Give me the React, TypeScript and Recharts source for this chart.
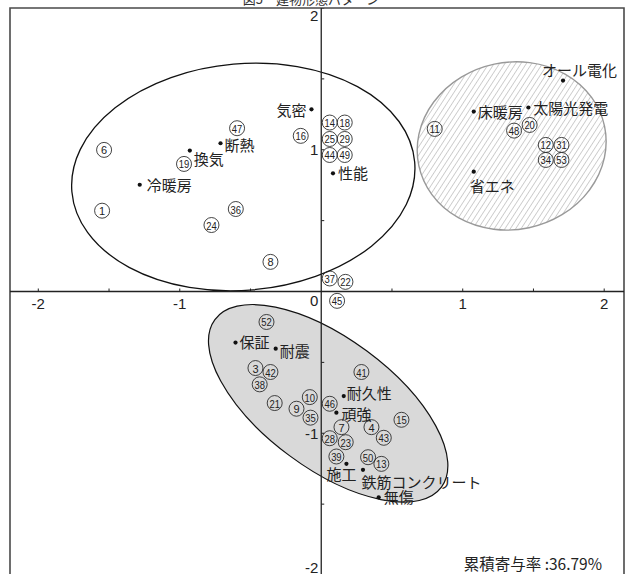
import { ReferenceArea, ReferenceLine, Scatter, ScatterChart, XAxis, YAxis } from "recharts";

// circled sample numbers (x, y in axis units)
const itemIds = [1, 3, 4, 6, 7, 8, 9, 10, 11, 12, 13, 14, 15, 16, 18, 19, 20, 21, 22, 23, 24, 25, 28, 29, 31, 34, 35, 36, 37, 38, 39, 41, 42, 43, 44, 45, 46, 47, 48, 49, 50, 52, 53];
const itemX = [-1.549, -0.465, 0.355, -1.535, 0.143, -0.359, -0.175, -0.081, 0.802, 1.587, 0.425, 0.06, 0.567, -0.145, 0.166, -0.97, 1.473, -0.329, 0.171, 0.173, -0.776, 0.06, 0.06, 0.166, 1.698, 1.587, -0.076, -0.604, 0.06, -0.435, 0.107, 0.284, -0.359, 0.442, 0.06, 0.112, 0.06, -0.595, 1.363, 0.166, 0.331, -0.387, 1.698];
const itemY = [0.57, -0.54, -0.957, 0.999, -0.957, 0.209, -0.827, -0.745, 1.147, 1.034, -1.216, 1.192, -0.905, 1.098, 1.192, 0.9, 1.175, -0.787, 0.068, -1.063, 0.469, 1.076, -1.035, 1.076, 1.034, 0.928, -0.89, 0.582, 0.092, -0.655, -1.164, -0.568, -0.568, -1.032, 0.963, -0.066, -0.792, 1.152, 1.135, 0.963, -1.169, -0.215, 0.928];

// keyword points
const wordNames = ["気密", "断熱", "換気", "冷暖房", "性能", "床暖房", "太陽光発電", "オール電化", "省エネ", "保証", "耐震", "耐久性", "頑強", "施工", "鉄筋コンクリート", "無傷"];
const wordX = [-0.069, -0.712, -0.929, -1.283, 0.083, 1.078, 1.464, 1.709, 1.078, -0.606, -0.322, 0.159, 0.107, 0.178, 0.295, 0.406];
const wordY = [1.285, 1.046, 0.994, 0.753, 0.834, 1.269, 1.298, 1.488, 0.845, -0.36, -0.403, -0.738, -0.855, -1.216, -1.258, -1.452];

// group ellipses
const groupCenterX = [-0.551, 1.346, 0.049];
const groupCenterY = [0.808, 1.027, -0.789];
const groupHalfMajor = [1.216, 0.671, 0.996];
const groupHalfMinor = [0.799, 0.59, 0.459];
const groupAngle = [-5, -12, 36.5];

const tickValues = [-2, -1.5, -1, -0.5, 0.5, 1, 1.5, 2];
const tickLabels = ["-2", "", "-1", "", "", "1", "", "2"];

const X_DOMAIN: [number, number] = [-2.2, 2.14];
const Y_DOMAIN: [number, number] = [-2, 2];

const jp = "'Noto Sans CJK JP', sans-serif";
const latin = "'Liberation Sans', Arial, sans-serif";

const groupStyles = [
  { fill: "none", stroke: "#111", strokeWidth: 1.3 },
  { fill: "url(#hatch)", stroke: "#999", strokeWidth: 1.4 },
  { fill: "#d9d9d9", stroke: "#111", strokeWidth: 1.2 },
];

const wordPlacement: Record<string, { dx: number; dy: number; anchor: "start" | "end" | "middle" }> = {
  気密: { dx: -5, dy: 0, anchor: "end" },
  断熱: { dx: 4, dy: 1.5, anchor: "start" },
  換気: { dx: 4, dy: 8, anchor: "start" },
  冷暖房: { dx: 7, dy: -0.5, anchor: "start" },
  性能: { dx: 5, dy: -0.5, anchor: "start" },
  床暖房: { dx: 4, dy: 0, anchor: "start" },
  太陽光発電: { dx: 5, dy: 0, anchor: "start" },
  オール電化: { dx: -21, dy: -11, anchor: "start" },
  省エネ: { dx: -4, dy: 14, anchor: "start" },
  保証: { dx: 4, dy: -1.5, anchor: "start" },
  耐震: { dx: 4, dy: 2, anchor: "start" },
  耐久性: { dx: 3, dy: -4, anchor: "start" },
  頑強: { dx: 5, dy: 1, anchor: "start" },
  施工: { dx: 10, dy: 9.5, anchor: "end" },
  鉄筋コンクリート: { dx: -1.5, dy: 11.5, anchor: "start" },
  無傷: { dx: 5, dy: -0.5, anchor: "start" },
};

const items = itemIds.map((id, i) => ({ id, x: itemX[i], y: itemY[i] }));
const words = wordNames.map((name, i) => ({ name, x: wordX[i], y: wordY[i] }));
const xTicks = tickValues.map((v, i) => ({ x: v, y: 0, value: v, label: tickLabels[i] }));
const yTicks = tickValues.map((v, i) => ({ x: 0, y: v, value: v, label: tickLabels[i] }));

const ItemMark = (props: any) => {
  const { cx, cy, payload } = props;
  const text = String(payload.id);
  return (
    <g>
      <circle cx={cx} cy={cy} r={7.5} fill="none" stroke="#222" strokeWidth={0.85} />
      <text
        x={cx}
        y={cy + 0.5}
        textAnchor="middle"
        dominantBaseline="central"
        fontSize={11}
        fontFamily={latin}
        fill="#222"
        {...(text.length > 1 ? { textLength: 10.5, lengthAdjust: "spacingAndGlyphs" } : {})}
      >
        {text}
      </text>
    </g>
  );
};

const WordMark = (props: any) => {
  const { cx, cy, payload } = props;
  const p = wordPlacement[payload.name] ?? { dx: 5, dy: 0, anchor: "start" };
  return (
    <g>
      <circle cx={cx} cy={cy} r={2.1} fill="#111" />
      <text x={cx + p.dx} y={cy + p.dy} textAnchor={p.anchor} dominantBaseline="central" fontSize={15} fontFamily={jp} fill="#222">
        {payload.name}
      </text>
    </g>
  );
};

const XTickMark = (props: any) => {
  const { cx, cy, payload } = props;
  return (
    <g>
      <line x1={cx} x2={cx} y1={cy} y2={cy - 3} stroke="#222" strokeWidth={1} />
      {payload.label && (
        <text x={cx} y={cy + 12} textAnchor="middle" dominantBaseline="central" fontSize={15} fontFamily={latin} fill="#222">
          {payload.label}
        </text>
      )}
    </g>
  );
};

const YTickMark = (props: any) => {
  const { cx, cy, payload } = props;
  const shift = payload.value === 2 ? 7 : payload.value === -2 ? -8 : 0;
  return (
    <g>
      <line x1={cx} x2={cx + 3} y1={cy} y2={cy} stroke="#222" strokeWidth={1} />
      {payload.label && (
        <text x={cx - 3} y={cy + shift} textAnchor="end" dominantBaseline="central" fontSize={15} fontFamily={latin} fill="#222">
          {payload.label}
        </text>
      )}
    </g>
  );
};

const OriginLabel = (props: any) => {
  const { cx, cy } = props;
  return (
    <text x={cx - 3} y={cy + 9} textAnchor="end" dominantBaseline="central" fontSize={15} fontFamily={latin} fill="#222">
      0
    </text>
  );
};

const groupShape = (index: number) => (props: any) => {
  const { x, y, width, height } = props;
  const cx = x + width / 2;
  const cy = y + height / 2;
  const s = groupStyles[index];
  return (
    <g>
      <defs>
        <pattern id="hatch" patternUnits="userSpaceOnUse" width={4.5} height={4.5} patternTransform="rotate(45)">
          <line x1={0} y1={0} x2={0} y2={4.5} stroke="#888" strokeWidth={0.8} />
        </pattern>
      </defs>
      <ellipse cx={cx} cy={cy} rx={width / 2} ry={Math.abs(height) / 2} transform={`rotate(${groupAngle[index]} ${cx} ${cy})`} {...s} />
    </g>
  );
};

export default function App() {
  return (
    <div style={{ position: "fixed", left: 0, top: 0, width: 630, height: 574, overflow: "hidden", background: "#fff" }}>
      <ScatterChart width={630} height={580} margin={{ top: 8, right: 6, bottom: 5, left: 10 }}>
        <XAxis type="number" dataKey="x" domain={X_DOMAIN} allowDataOverflow hide />
        <YAxis type="number" dataKey="y" domain={Y_DOMAIN} allowDataOverflow hide />
        {groupCenterX.map((gx, i) => (
          <ReferenceArea
            key={`g${i}`}
            x1={gx - groupHalfMajor[i]}
            x2={gx + groupHalfMajor[i]}
            y1={groupCenterY[i] - groupHalfMinor[i]}
            y2={groupCenterY[i] + groupHalfMinor[i]}
            ifOverflow="visible"
            shape={groupShape(i)}
          />
        ))}
        <ReferenceArea x1={X_DOMAIN[0]} x2={X_DOMAIN[1]} y1={Y_DOMAIN[0]} y2={Y_DOMAIN[1]} fill="none" fillOpacity={0} stroke="#4a4a4a" strokeWidth={1.6} ifOverflow="visible" />
        <ReferenceLine y={0} stroke="#222" strokeWidth={1.3} />
        <ReferenceLine x={0} stroke="#222" strokeWidth={1.3} />
        <Scatter data={xTicks} shape={XTickMark} isAnimationActive={false} />
        <Scatter data={yTicks} shape={YTickMark} isAnimationActive={false} />
        <Scatter data={[{ x: 0, y: 0 }]} shape={OriginLabel} isAnimationActive={false} />
        <Scatter data={items} shape={ItemMark} isAnimationActive={false} />
        <Scatter data={words} shape={WordMark} isAnimationActive={false} />
      </ScatterChart>
      <svg width={630} height={574} style={{ position: "absolute", left: 0, top: 0, pointerEvents: "none" }}>
        <text x={311} y={4} textAnchor="middle" fontSize={13} fontFamily={jp} fill="#333">
          図5　建物形態パターン
        </text>
        <text x={602} y={563} textAnchor="end" dominantBaseline="central" fontSize={15.5} fontFamily={jp} fill="#222">
          累積寄与率 :36.79%
        </text>
      </svg>
    </div>
  );
}
